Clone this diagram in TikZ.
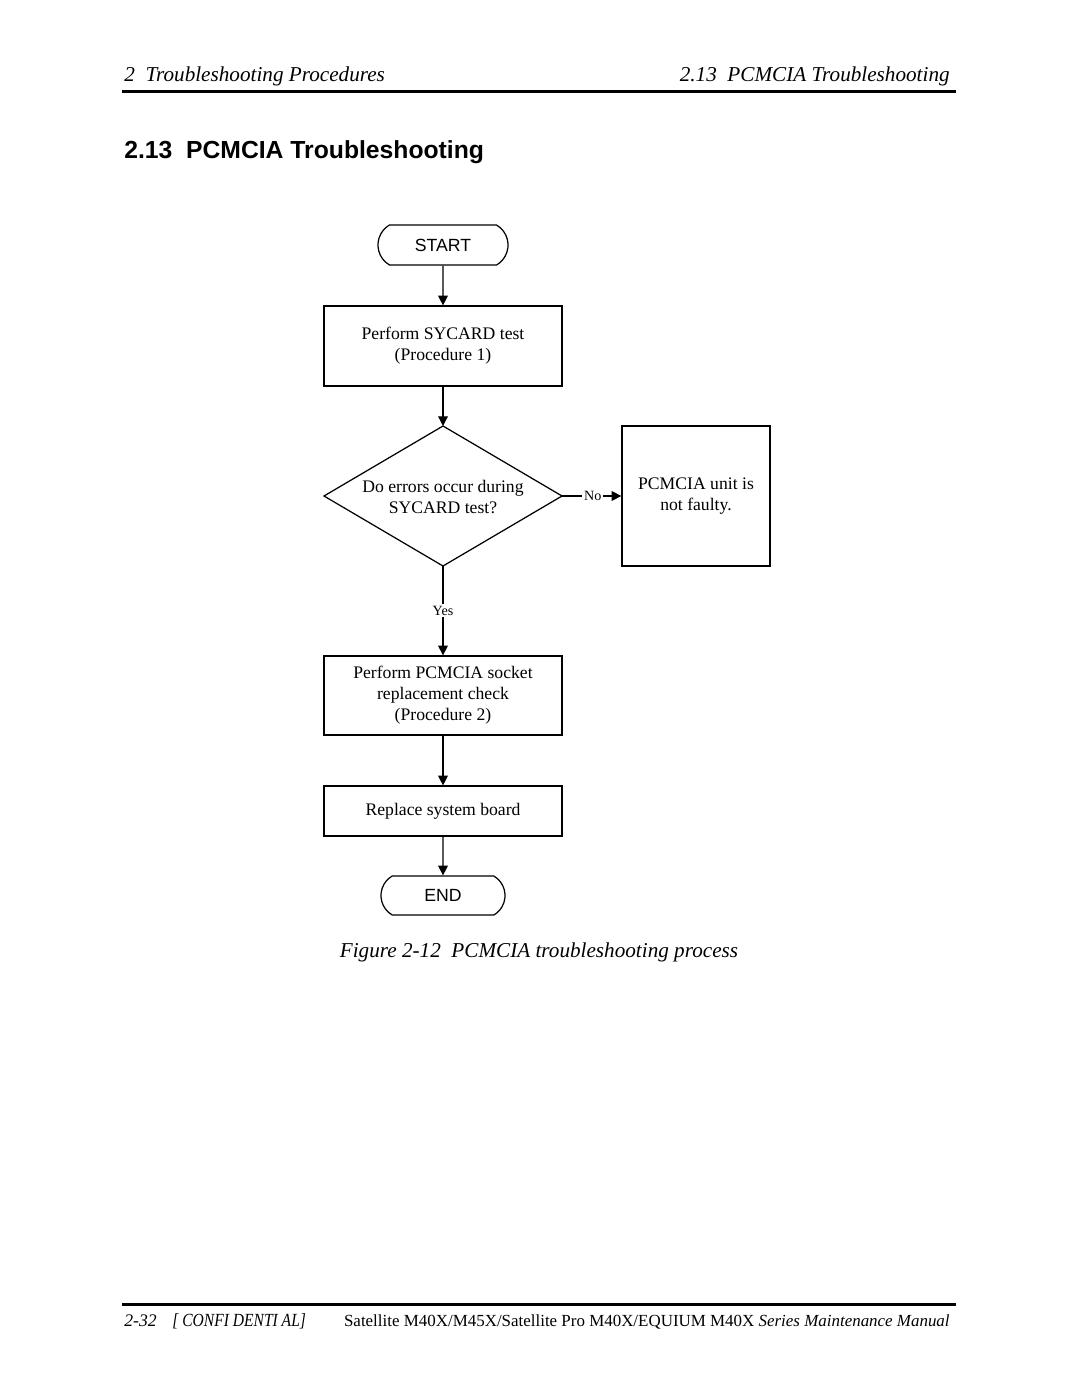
\documentclass[tikz,border=0pt]{standalone}
\usepackage{fontspec}
\setmainfont{Liberation Serif}
\newfontfamily\helv{Liberation Sans}
\newfontfamily\condit[FakeStretch=0.84]{Liberation Serif Italic}
\usetikzlibrary{arrows.meta,shapes.misc}
\begin{document}
\begin{tikzpicture}[x=0.56667pt,y=-0.56667pt,
  txt/.style={inner sep=0pt},
  box/.style={draw, line width=0.7pt, inner sep=0pt, align=center, font=\fontsize{10}{11.9}\selectfont},
  term/.style={draw, line width=0.7pt, rounded rectangle, rounded rectangle arc length=120, inner sep=0pt, font=\helv\fontsize{10}{11}\selectfont},
  dtext/.style={inner sep=0pt, align=center, font=\fontsize{10}{11.9}\selectfont},
  arr/.style={-{Triangle[length=5.5pt,width=5.5pt]}, line width=0.7pt},
  lab/.style={fill=white, inner sep=1pt, font=\fontsize{8}{9}\selectfont}
]
\useasboundingbox (0,0) rectangle (1080,1397);
% header
\node[txt, anchor=base west, font=\itshape\fontsize{12}{14}\selectfont] (hl) at (124,82) {2\ \ Troubleshooting Procedures};
\node[txt, anchor=base east, font=\itshape\fontsize{12}{14}\selectfont] (hr) at (950,82) {2.13\ \ PCMCIA Troubleshooting};
\draw[line width=1.7pt] (122,92) -- (956,92);
\node[txt, anchor=base west, font=\helv\bfseries\fontsize{14}{17}\selectfont] (title) at (124,159) {2.13\ \ PCMCIA Troubleshooting};
% flowchart
\node[term, minimum width=73.7pt, minimum height=22.7pt] (start) at (443,245) {START};
\node[box, minimum width=134.9pt, minimum height=45.3pt] (b1) at (443,346) {Perform SYCARD test\\(Procedure 1)};
\coordinate (dt) at (443,426);
\coordinate (dr) at (562,496);
\coordinate (db) at (443,566);
\coordinate (dl) at (324,496);
\draw[line width=0.7pt] (dt) -- (dr) -- (db) -- (dl) -- cycle;
\node[dtext] (d) at (443,497) {Do errors occur during\\SYCARD test?};
\node[box, minimum width=83.9pt, minimum height=79.3pt] (nf) at (696,496) {PCMCIA unit is\\not faulty.};
\node[box, minimum width=134.9pt, minimum height=44.8pt] (b3) at (443,695.5) {Perform PCMCIA socket\\replacement check\\(Procedure 2)};
\node[box, minimum width=134.9pt, minimum height=28.3pt] (b4) at (443,811) {Replace system board};
\node[term, minimum width=70.3pt, minimum height=22.1pt] (end) at (443,895.5) {END};
\draw[arr] (start) -- (b1);
\draw[arr] (b1) -- (dt);
\draw[arr] (dr) -- node[lab, pos=0.52] (no) {No} (nf.west);
\draw[arr] (db) -- node[lab, pos=0.5] (yes) {Yes} (b3.north);
\draw[arr] (b3) -- (b4);
\draw[arr] (b4) -- (end);
% caption
\node[txt, anchor=base, font=\itshape\fontsize{12}{14}\selectfont] (cap) at (539,957) {Figure 2-12\ \ PCMCIA troubleshooting process};
% footer
\draw[line width=1.7pt] (122,1304) -- (956,1304);
\node[txt, anchor=base west, font=\itshape\fontsize{10}{12}\selectfont] (pg) at (124,1326) {2-32};
\node[txt, anchor=base west, font=\condit\fontsize{10.5}{12}\selectfont] (conf) at (172,1326) {[ CONFI DENTI AL]};
\node[txt, anchor=base east, font=\fontsize{9.6}{12}\selectfont] (man) at (950,1326) {Satellite M40X/M45X/Satellite Pro M40X/EQUIUM M40X \textit{Series Maintenance Manual}};
\end{tikzpicture}
\end{document}
